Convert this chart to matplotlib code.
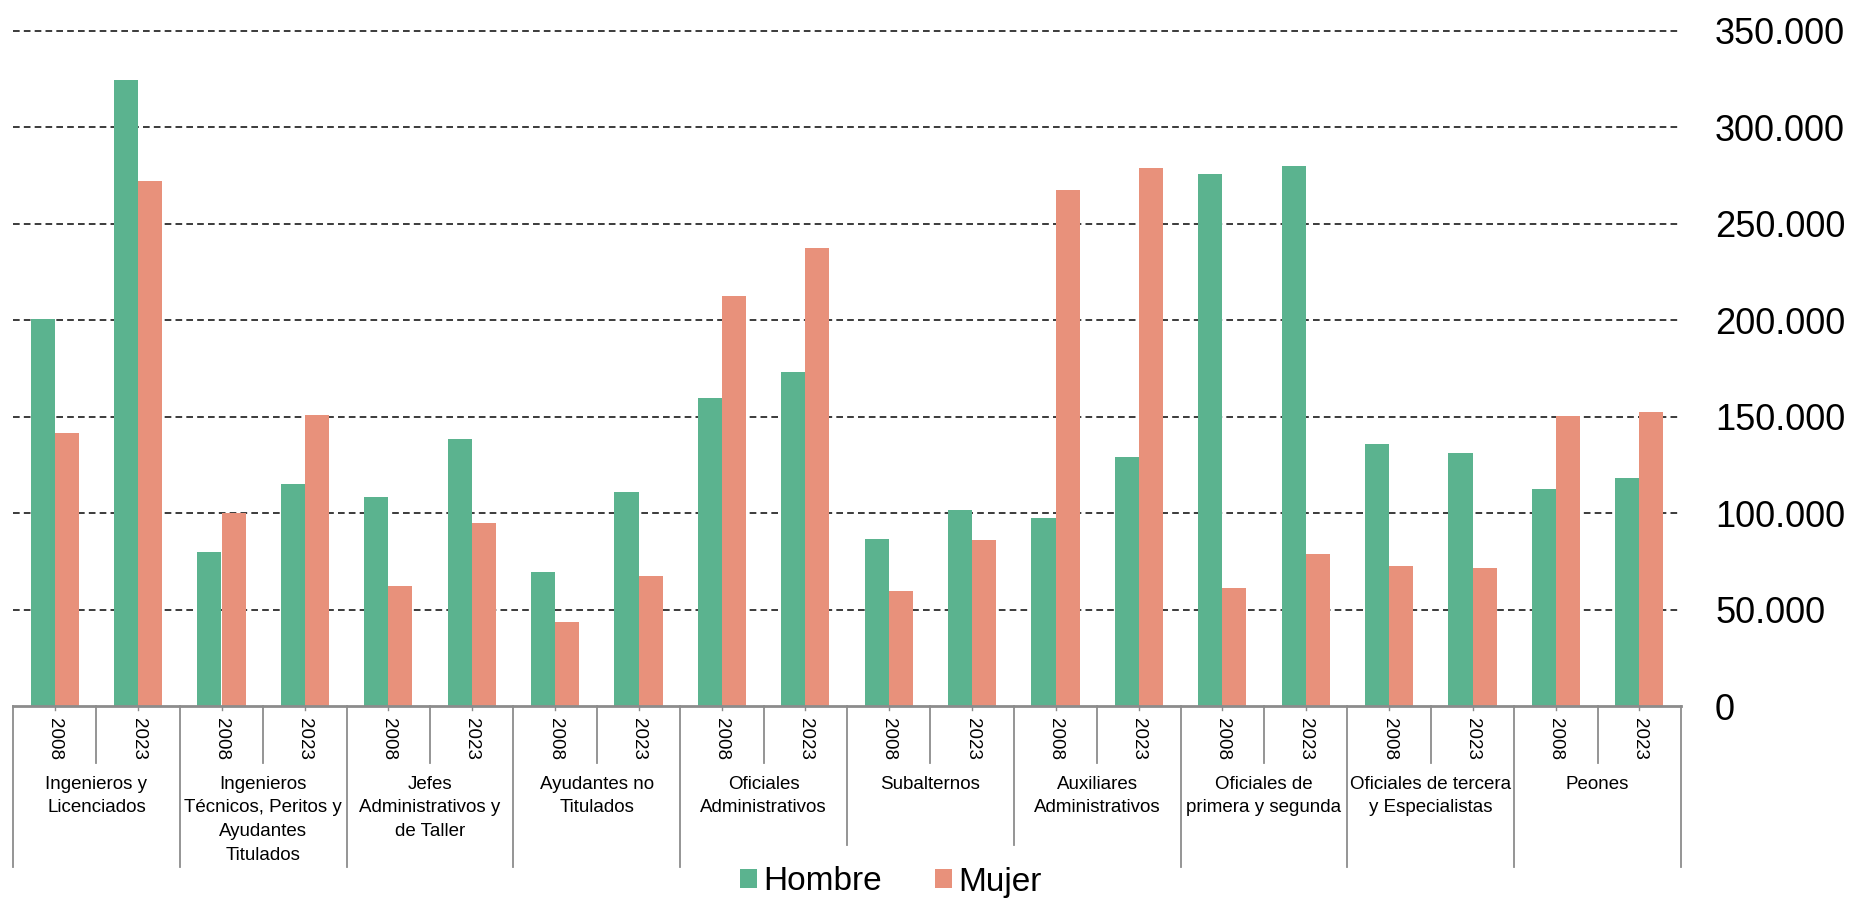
import matplotlib
matplotlib.use("Agg")
import matplotlib.pyplot as plt
from matplotlib.lines import Line2D
from matplotlib.patches import Patch
from matplotlib.ticker import FuncFormatter
import numpy as np

plt.rcParams['font.family'] = ['Liberation Sans', 'DejaVu Sans']

groups = ["Ingenieros y\nLicenciados",
          "Ingenieros\nTécnicos, Peritos y\nAyudantes\nTitulados",
          "Jefes\nAdministrativos y\nde Taller",
          "Ayudantes no\nTitulados",
          "Oficiales\nAdministrativos",
          "Subalternos",
          "Auxiliares\nAdministrativos",
          "Oficiales de\nprimera y segunda",
          "Oficiales de tercera\ny Especialistas",
          "Peones"]
years = ["2008", "2023"]
series_names = ["Hombre", "Mujer"]

hombre = [200500, 324300,
          79600, 115200,
          108100, 138600,
          69200, 111100,
          159600, 173100,
          86300, 101600,
          97400, 129200,
          275700, 279700,
          136000, 131300,
          112300, 118000]
mujer = [141700, 272200,
         99800, 150600,
         62100, 94800,
         43400, 67500,
         212600, 237300,
         59700, 86000,
         267300, 279000,
         61100, 78700,
         72500, 71400,
         150500, 152200]

yticks = [0, 50000, 100000, 150000, 200000, 250000, 300000, 350000]

c_h = "#5BB38F"
c_m = "#E8917B"
gray = "#8C8C8C"

W, H = 1859, 900
fig = plt.figure(figsize=(W / 100, H / 100), dpi=100)
ax_left, ax_right = 13, 1681
ax_top, ax_bot = 30.7, 706
ax = fig.add_axes([ax_left / W, 1 - ax_bot / H, (ax_right - ax_left) / W, (ax_bot - ax_top) / H])
ax_h_px = ax_bot - ax_top

n = len(hombre)
x = np.arange(n) + 0.5
bw = 0.288
ax.bar(x - bw / 2, hombre, width=bw, color=c_h, zorder=3, linewidth=0)
ax.bar(x + bw / 2, mujer, width=bw, color=c_m, zorder=3, linewidth=0)

ax.set_xlim(0, n)
ax.set_ylim(0, 350000)
ax.set_xticks([])
ax.yaxis.tick_right()
ax.set_yticks(yticks)
ax.yaxis.set_major_formatter(FuncFormatter(lambda v, p: f"{int(v):,}".replace(",", ".")))
ax.tick_params(axis='y', length=0, pad=24.5, labelsize=26)
for lab in ax.get_yticklabels():
    lab.set_horizontalalignment('left')

for s in ['top', 'right', 'left']:
    ax.spines[s].set_visible(False)
ax.spines['bottom'].set_color(gray)
ax.spines['bottom'].set_linewidth(2.0)
ax.spines['bottom'].set_zorder(5)

for v in yticks[1:]:
    ax.axhline(v, color="#1a1a1a", lw=1.2, linestyle=(0, (4, 2.5)), zorder=1, clip_on=False)

tr = ax.get_xaxis_transform()
def fy(px):
    return -(px - ax_bot) / ax_h_px

# separators
for b in range(n + 1):
    if b % 2 == 1:
        end = 763
    elif b in (10, 12):
        end = 845
    else:
        end = 867
    ax.add_line(Line2D([b, b], [0, fy(end)], transform=tr, color=gray, lw=1.3, clip_on=False, zorder=4))

# small ticks at slot centers
for xi in x:
    ax.add_line(Line2D([xi, xi], [0, fy(710)], transform=tr, color=gray, lw=1.0, clip_on=False, zorder=4))

# year labels
for i, xi in enumerate(x):
    ax.text(xi, fy(718), years[i % 2], transform=tr, rotation=-90, ha='center', va='top',
            fontsize=13.5, color='black')

# group labels
for g, name in enumerate(groups):
    ax.text(2 * g + 1, fy(776), name, transform=tr, ha='center', va='top',
            fontsize=13.5, color='black', linespacing=1.5)

handles = [Patch(facecolor=c_h, edgecolor='none'), Patch(facecolor=c_m, edgecolor='none')]
fig.legend(handles, series_names, loc='center', bbox_to_anchor=(891 / W, 1 - 882 / H),
           ncol=2, frameon=False, fontsize=24, handlelength=0.5, handleheight=0.5,
           handletextpad=0.2, columnspacing=1.6, borderpad=0)

fig.savefig("out.png", dpi=100)
